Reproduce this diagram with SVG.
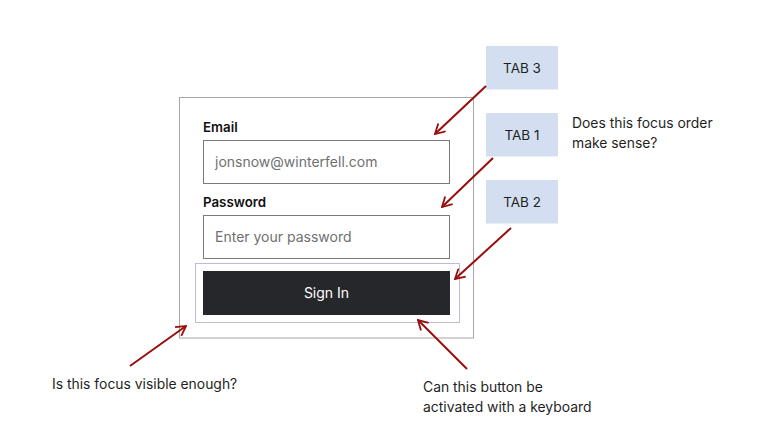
<svg xmlns="http://www.w3.org/2000/svg" width="766" height="447" viewBox="0 0 766 447">
<style>
text{font-family:Inter,"Noto Sans","Liberation Sans",sans-serif;}
.note{font-size:13.9px;fill:#1f1f1f;}
.lbl{font-size:13.3px;font-weight:600;fill:#111;}
.ph{font-size:14px;fill:#707070;}
.tab rect{fill:#d3dff0;}
.tab text{font-size:13.5px;fill:#1f1f1f;text-anchor:middle;}
.input{fill:#fff;stroke:#7a7a7a;stroke-width:1;}
.arrow{stroke:#990d0d;stroke-width:2;fill:none;marker-end:url(#ah);}
</style>
<defs>
<marker id="ah" viewBox="0 0 10 10" refX="9" refY="5" markerWidth="6" markerHeight="6" orient="auto" markerUnits="strokeWidth">
<path d="M1,0.5 L9,5 L1,9.5" fill="none" stroke="#990d0d" stroke-width="1.5"/>
</marker>
</defs>
<rect width="766" height="447" fill="#fff"/>
<g id="form">
<rect x="179.5" y="97.5" width="294" height="240.5" fill="#fff" stroke="#a6a6a6"/>
</g>
<g id="email">
<text class="lbl" x="203" y="132">Email</text>
<rect class="input" x="203.5" y="140.5" width="246" height="43"/>
<text class="ph" x="215" y="167">jonsnow@winterfell.com</text>
</g>
<g id="password">
<text class="lbl" x="203" y="207">Password</text>
<rect class="input" x="203.5" y="215.5" width="246" height="43"/>
<text class="ph" x="215" y="242">Enter your password</text>
</g>
<g id="signin">
<rect x="195.5" y="263.5" width="264" height="59" fill="none" stroke="#b9bdd6"/>
<rect x="203" y="271" width="247" height="44" fill="#26272b"/>
<text x="326.5" y="298" font-size="14" fill="#fff" text-anchor="middle">Sign In</text>
</g>
<g id="tab3" class="tab"><rect x="486" y="46" width="72" height="43.5"/><text x="522" y="73">TAB 3</text></g>
<g id="tab1" class="tab"><rect x="486" y="113" width="72" height="43.5"/><text x="522" y="140">TAB 1</text></g>
<g id="tab2" class="tab"><rect x="486" y="180" width="72" height="43.5"/><text x="522" y="207">TAB 2</text></g>
<g id="notes">
<text class="note" x="572" y="128">Does this focus order</text>
<text class="note" x="572" y="148">make sense?</text>
<text class="note" x="52" y="389">Is this focus visible enough?</text>
<text class="note" x="423" y="392">Can this button be</text>
<text class="note" x="423" y="412">activated with a keyboard</text>
</g>
<g id="connectors">
<line class="arrow" x1="486" y1="86" x2="435" y2="134"/>
<line class="arrow" x1="493" y1="158" x2="442" y2="207"/>
<line class="arrow" x1="511" y1="228" x2="455" y2="279"/>
<line class="arrow" x1="130" y1="366" x2="186" y2="326"/>
<line class="arrow" x1="467" y1="369" x2="418" y2="320"/>
</g>
</svg>
